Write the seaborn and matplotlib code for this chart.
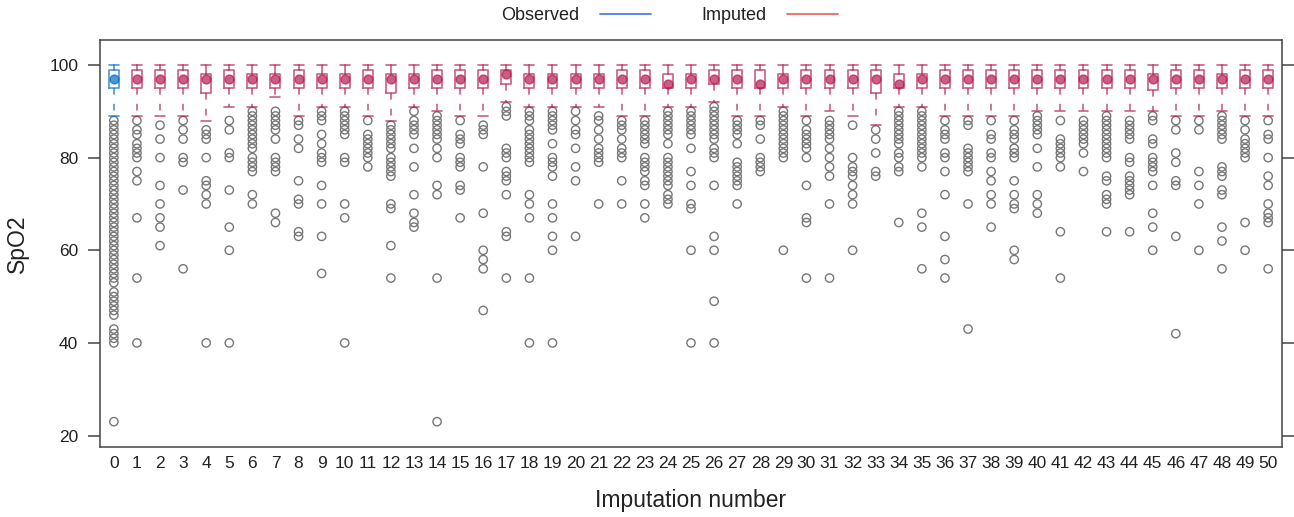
import matplotlib
matplotlib.use("Agg")
import matplotlib.pyplot as plt
import seaborn as sns
import pandas as pd
from matplotlib.lines import Line2D

# ---------------- data ----------------
imputation = list(range(51))
tick_labels = [str(i) for i in imputation]

q1 = [95, 95, 95, 95, 94, 95, 95, 95, 95, 95,
      95, 95, 94, 95, 95, 95, 95, 96, 95, 95,
      95, 95, 95, 95, 95, 95, 96, 95, 95, 95,
      95, 95, 95, 94, 95, 95, 95, 95, 95, 95,
      95, 95, 95, 95, 95, 94.5, 95, 95, 95, 95, 95]
med = [97, 97, 97, 97, 97, 97, 97, 97, 97, 97,
       97, 97, 97, 97, 97, 97, 97, 98, 97, 97,
       97, 97, 97, 97, 96, 97, 97, 97, 96, 97,
       97, 97, 97, 97, 96, 97, 97, 97, 97, 97,
       97, 97, 97, 97, 97, 97, 97, 97, 97, 97, 97]
q3 = [99, 99, 99, 99, 98, 99, 98, 98, 99, 98,
      98, 99, 98, 98, 99, 99, 99, 99, 98, 98,
      98, 98, 99, 99, 98, 98, 99, 99, 99, 98,
      99, 99, 99, 99, 98, 98, 99, 99, 99, 99,
      99, 99, 99, 99, 99, 98, 99, 99, 98, 99, 99]
whis_lo = [89, 89, 89, 89, 88, 91, 91, 93, 89, 91,
           91, 89, 88, 91, 90, 89, 89, 92, 91, 91,
           91, 91, 89, 89, 91, 91, 92, 89, 89, 91,
           89, 90, 89, 87, 91, 91, 89, 89, 89, 89,
           90, 90, 90, 90, 90, 90, 89, 89, 90, 89, 89]
whis_hi = [100, 100, 100, 100, 100, 100, 100, 100, 100, 100,
           100, 100, 100, 100, 100, 100, 100, 100, 100, 100,
           100, 100, 100, 100, 100, 100, 100, 100, 100, 100,
           100, 100, 100, 100, 100, 100, 100, 100, 100, 100,
           100, 100, 100, 100, 100, 100, 100, 100, 100, 100, 100]

fliers = [
    [23, 40, 41, 42, 43, 46, 47, 48, 49, 50, 51, 53, 54, 55, 56, 57, 58, 59, 60,
     61, 62, 63, 64, 65, 66, 67, 68, 69, 70, 71, 72, 73, 74, 75, 76, 77, 78, 79,
     80, 81, 82, 83, 84, 85, 86, 87, 88],                                   # 0
    [88, 86, 85, 83, 82, 81, 80, 77, 75, 67, 54, 40],                       # 1
    [87, 84, 80, 74, 70, 67, 65, 61],                                       # 2
    [88, 86, 84, 80, 79, 73, 56],                                           # 3
    [86, 85, 84, 80, 75, 74, 72, 70, 40],                                   # 4
    [88, 86, 81, 80, 73, 65, 60, 40],                                       # 5
    [90, 89, 88, 87, 86, 85, 84, 83, 82, 80, 79, 78, 77, 72, 70],           # 6
    [90, 89, 88, 87, 86, 84, 80, 79, 78, 77, 68, 66],                       # 7
    [88, 87, 84, 82, 75, 71, 70, 64, 63],                                   # 8
    [90, 89, 88, 85, 83, 81, 80, 79, 74, 70, 63, 55],                       # 9
    [90, 89, 88, 87, 86, 85, 80, 79, 70, 67, 40],                           # 10
    [88, 85, 84, 83, 82, 81, 80, 78],                                       # 11
    [87, 86, 85, 84, 83, 82, 80, 79, 78, 77, 76, 70, 69, 61, 54],           # 12
    [90, 88, 87, 86, 85, 82, 78, 72, 68, 66, 65],                           # 13
    [89, 88, 87, 86, 85, 84, 82, 80, 74, 72, 54, 23],                       # 14
    [88, 85, 84, 83, 80, 79, 78, 74, 73, 67],                               # 15
    [87, 86, 85, 78, 68, 60, 58, 56, 47],                                   # 16
    [91, 90, 89, 82, 81, 80, 77, 76, 75, 72, 64, 63, 54],                   # 17
    [90, 89, 88, 86, 85, 84, 83, 82, 81, 80, 79, 72, 70, 67, 54, 40],       # 18
    [90, 89, 88, 87, 86, 83, 80, 79, 78, 76, 70, 67, 63, 60, 40],           # 19
    [90, 88, 86, 85, 82, 78, 75, 63],                                       # 20
    [89, 88, 86, 84, 82, 81, 80, 79, 70],                                   # 21
    [88, 87, 86, 84, 82, 81, 80, 75, 70],                                   # 22
    [88, 87, 86, 85, 84, 83, 80, 79, 78, 77, 75, 74, 70, 67],               # 23
    [90, 89, 88, 87, 86, 85, 83, 80, 79, 78, 77, 76, 75, 74, 72, 71, 70],   # 24
    [90, 89, 88, 87, 86, 85, 82, 77, 74, 70, 69, 60, 40],                   # 25
    [91, 90, 89, 88, 87, 86, 85, 84, 82, 81, 80, 74, 63, 60, 49, 40],       # 26
    [88, 87, 86, 85, 83, 79, 78, 77, 76, 75, 74, 70],                       # 27
    [88, 87, 84, 80, 79, 78, 77],                                           # 28
    [90, 89, 88, 87, 86, 85, 84, 83, 82, 81, 80, 60],                       # 29
    [88, 86, 85, 84, 83, 82, 80, 74, 67, 66, 54],                           # 30
    [88, 87, 86, 85, 84, 82, 80, 78, 76, 70, 54],                           # 31
    [87, 80, 78, 77, 76, 74, 72, 70, 60],                                   # 32
    [86, 84, 81, 77, 76],                                                   # 33
    [90, 89, 88, 87, 86, 85, 84, 83, 81, 80, 78, 77, 66],                   # 34
    [90, 89, 88, 87, 86, 85, 84, 83, 82, 81, 80, 78, 68, 65, 56],           # 35
    [88, 86, 85, 84, 81, 80, 77, 72, 63, 58, 54],                           # 36
    [88, 87, 82, 81, 80, 79, 78, 77, 70, 43],                               # 37
    [88, 85, 84, 81, 80, 77, 75, 72, 70, 65],                               # 38
    [88, 86, 85, 84, 82, 81, 80, 75, 72, 70, 69, 60, 58],                   # 39
    [89, 88, 87, 86, 85, 82, 78, 72, 70, 68],                               # 40
    [88, 84, 83, 82, 81, 80, 78, 64, 54],                                   # 41
    [88, 87, 86, 85, 84, 83, 81, 77],                                       # 42
    [89, 88, 87, 86, 85, 84, 83, 82, 81, 80, 76, 75, 72, 71, 70, 64],       # 43
    [88, 87, 86, 85, 84, 80, 79, 76, 75, 74, 73, 72, 64],                   # 44
    [89, 88, 84, 83, 80, 79, 78, 77, 74, 68, 65, 60],                       # 45
    [88, 86, 81, 79, 75, 74, 63, 42],                                       # 46
    [88, 86, 77, 74, 70, 60],                                               # 47
    [89, 88, 87, 86, 85, 84, 78, 77, 76, 73, 72, 65, 62, 56],               # 48
    [88, 86, 84, 83, 82, 81, 80, 66, 60],                                   # 49
    [88, 85, 84, 80, 76, 74, 70, 68, 67, 66, 56],                           # 50
]

y_ticks = [20, 40, 60, 80, 100]
legend_labels = ["Observed", "Imputed"]

# ---------------- style ----------------
sns.set_theme(style="white")
plt.rcParams["font.family"] = ["Liberation Sans", "DejaVu Sans"]

obs_col = "#006CC2"
imp_col = "#B61A51"
alpha = 0.7
flier_col = "#777777"
frame_col = "#444444"

fig = plt.figure(figsize=(12.94, 5.17), dpi=100)
ax = fig.add_axes([0.07728, 0.136, 0.91345, 0.7867])

# fliers via seaborn
flier_df = pd.DataFrame(
    [(imputation[i], v) for i in range(len(imputation)) for v in fliers[i]],
    columns=["Imputation number", "SpO2"],
)
sns.scatterplot(data=flier_df, x="Imputation number", y="SpO2", ax=ax,
                marker="o", s=36, facecolors="none", edgecolors=flier_col,
                linewidth=1.0, zorder=2, legend=False)

stats = []
for i in range(len(imputation)):
    stats.append(dict(med=med[i], q1=q1[i], q3=q3[i], whislo=whis_lo[i],
                      whishi=whis_hi[i], mean=med[i], fliers=[]))


def draw(idx, col):
    res = ax.bxp([stats[i] for i in idx], positions=[imputation[i] for i in idx],
                 widths=0.43, showmeans=True, showfliers=False, patch_artist=False,
                 boxprops=dict(color=col, alpha=alpha, linewidth=1.2),
                 whiskerprops=dict(color=col, alpha=alpha, linewidth=1.2,
                                   linestyle=(0, (4.0, 5.5))),
                 capprops=dict(color=col, alpha=alpha, linewidth=1.2),
                 medianprops=dict(linewidth=0),
                 meanprops=dict(marker="o", markersize=6.4, markerfacecolor=col,
                                markeredgecolor=col, alpha=alpha, linestyle="none"),
                 capwidths=0.43, manage_ticks=False, zorder=3)
    # upper whiskers solid (lattice umbrella is short there)
    for k, w in enumerate(res["whiskers"]):
        if k % 2 == 1:
            w.set_linestyle("-")
    return res


draw([0], obs_col)
draw(list(range(1, 51)), imp_col)

ax.set_xlim(-0.6, 50.6)
ax.set_ylim(17.6, 105.4)
ax.set_xticks(imputation)
ax.set_xticklabels(tick_labels, fontsize=12.5, color="#222222")
ax.set_yticks(y_ticks)
ax.set_yticklabels([str(t) for t in y_ticks], fontsize=12.5, color="#222222")
ax.tick_params(axis="x", length=0, pad=7)
ax.tick_params(axis="y", direction="out", length=8.6, width=1.1, color=frame_col,
               pad=7, left=True, right=True, labelright=False)
for sp in ax.spines.values():
    sp.set_color(frame_col)
    sp.set_linewidth(1.1)

ax.set_xlabel("Imputation number", fontsize=16.5, color="#222222")
ax.set_ylabel("SpO2", fontsize=16.5, color="#222222")
ax.xaxis.set_label_coords(0.5, -0.1335)
ax.xaxis.label.set_va("center")
ax.yaxis.set_label_coords(-0.0702, 0.5)
ax.yaxis.label.set_va("center")

handles = [Line2D([], [], color="#4a7df2", lw=1.3),
           Line2D([], [], color="#f06a5f", lw=1.3)]
fig.legend(handles, legend_labels, loc="center", bbox_to_anchor=(0.5174, 1 - 16 / 517),
           ncol=2, frameon=False, markerfirst=False, handlelength=2.8,
           handletextpad=1.15, columnspacing=2.8, fontsize=13,
           labelcolor="#222222")

fig.savefig("out.png", dpi=100)
